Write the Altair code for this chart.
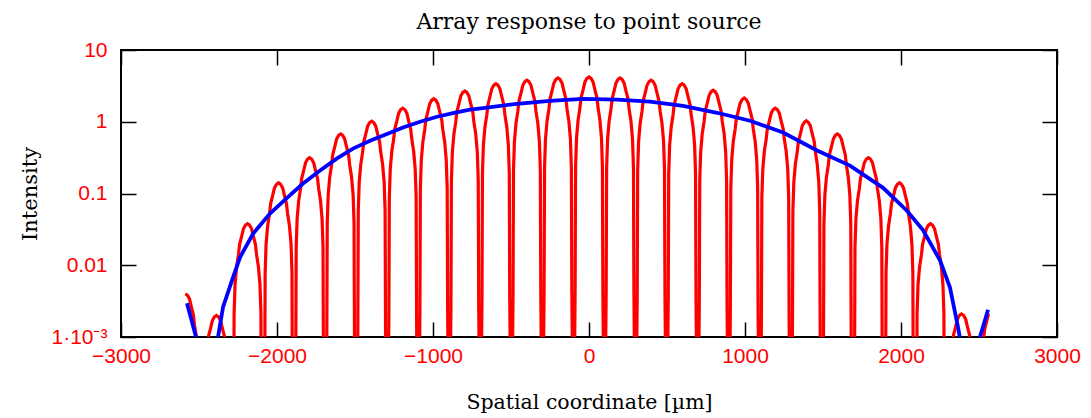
import altair as alt
import pandas as pd

# ---- axis tick values ----
x_ticks = [-3000, -2000, -1000, 0, 1000, 2000, 3000]
y_ticks = [0.001, 0.01, 0.1, 1, 10]

# ---- red curve: lobe peak positions (µm) and peak intensities ----
red_peak_x = [-2587, -2388, -2189, -1990, -1791, -1592, -1393, -1194, -995, -796,
              -597, -398, -199, 0, 199, 398, 597, 796, 995, 1194, 1393, 1592,
              1791, 1990, 2189, 2388, 2587]
red_peak_y = [0.004, 0.002, 0.038, 0.141, 0.316, 0.676, 1.02, 1.55, 2.09, 2.69,
              3.39, 3.80, 4.07, 4.22, 4.07, 3.80, 3.39, 2.75, 2.14, 1.55, 1.03,
              0.676, 0.316, 0.141, 0.038, 0.0021, 0.0025]
# shape of one lobe read from the central lobe: offset from peak (µm) and fraction of peak
lobe_offset = [0, 13, 26, 38, 51, 58, 70, 80, 86, 89, 99.5]
lobe_rel = [1, 0.955, 0.85, 0.66, 0.51, 0.37, 0.25, 0.14, 0.056, 0.001, 0.000003]
red_x_start = -2587
red_x_end = 2561

# ---- blue envelope ----
blue_x = [-2577, -2513, -2450, -2378, -2346, -2288, -2237, -2154, -2045, -1936,
          -1833, -1724, -1615, -1513, -1404, -1295, -1192, -1083, -974, -872,
          -763, -679, -462, -250, -38, 179, 391, 603, 821, 1032, 1244, 1462,
          1673, 1885, 2038, 2141, 2250, 2314, 2365, 2385, 2445, 2506, 2558]
blue_y = [0.00295, 0.00089, 0.00003, 0.001, 0.0026, 0.0062, 0.0129, 0.0275, 0.0525,
          0.087, 0.138, 0.209, 0.309, 0.422, 0.545, 0.676, 0.832, 1.0, 1.175, 1.318,
          1.479, 1.549, 1.778, 1.95, 2.09, 2.04, 1.905, 1.66, 1.334, 1.033, 0.708,
          0.398, 0.245, 0.120, 0.0575, 0.0309, 0.0117, 0.0049, 0.00138, 0.00079,
          0.00003, 0.001, 0.0024]

rows = []
for px, py in zip(red_peak_x, red_peak_y):
    side = [(-o, r) for o, r in zip(lobe_offset[::-1], lobe_rel[::-1])] + \
           [(o, r) for o, r in zip(lobe_offset[1:], lobe_rel[1:])]
    for o, r in side:
        xx = px + o
        if red_x_start <= xx <= red_x_end:
            rows.append({"x": xx, "y": py * r})
red_df = pd.DataFrame(rows)
blue_df = pd.DataFrame({"x": blue_x, "y": blue_y})

W, H = 936, 287
xs = alt.Scale(domain=[-3000, 3000], nice=False, zero=False)
ys = alt.Scale(type="log", domain=[0.001, 10], nice=False)

tick_common = dict(tickColor="black", tickWidth=1.5, tickSize=15, offset=-15,
                   domain=False, grid=False)

bottom_axis = alt.Axis(orient="bottom", values=x_ticks, format="d", labelColor="#ff0000",
                       labelFont="Liberation Sans", labelFontSize=21, labelPadding=8,
                       labelFlush=False, labelOverlap=False,
                       title="Spatial coordinate [µm]", titleFont="DejaVu Serif",
                       titleFontSize=20.5, titleFontWeight="normal", titleColor="black",
                       titleY=86, titleBaseline="alphabetic", **tick_common)
top_axis = alt.Axis(orient="top", values=x_ticks, labels=False, title="", **tick_common)
left_axis = alt.Axis(orient="left", values=y_ticks, labelColor="#ff0000",
                     labelFont="Liberation Sans", labelFontSize=21, labelPadding=14,
                     labelBaseline="middle", labelFlush=False, labelOverlap=False,
                     labelExpr="datum.value < 0.005 ? '1·10⁻³' : format(datum.value, '~g')",
                     title="Intensity", titleFont="DejaVu Serif", titleFontSize=21,
                     titleFontWeight="normal", titleColor="black", titleX=-106,
                     titleBaseline="middle", **tick_common)
right_axis = alt.Axis(orient="right", values=y_ticks, labels=False, title="", **tick_common)

red = alt.Chart(red_df).mark_line(color="#ff0000", strokeWidth=3.2, clip=True).encode(
    x=alt.X("x:Q", scale=xs, axis=bottom_axis),
    y=alt.Y("y:Q", scale=ys, axis=left_axis),
)
blue = alt.Chart(blue_df).mark_line(color="#0000ff", strokeWidth=3.8, clip=True).encode(
    x=alt.X("x:Q", scale=xs, axis=top_axis),
    y=alt.Y("y:Q", scale=ys, axis=right_axis),
)

chart = alt.layer(red, blue).resolve_axis(x="independent", y="independent").properties(
    width=W, height=H,
    padding={"left": 121, "top": 50, "right": 34, "bottom": 81},
    autosize=alt.AutoSizeParams(type="none"),
    title=alt.TitleParams("Array response to point source", font="DejaVu Serif",
                          fontSize=22, fontWeight="normal", color="black",
                          anchor="middle", offset=5),
    background="white",
).configure_view(stroke="black", strokeWidth=2)

chart.save("out.html", embed_options={"renderer": "svg", "actions": False})
